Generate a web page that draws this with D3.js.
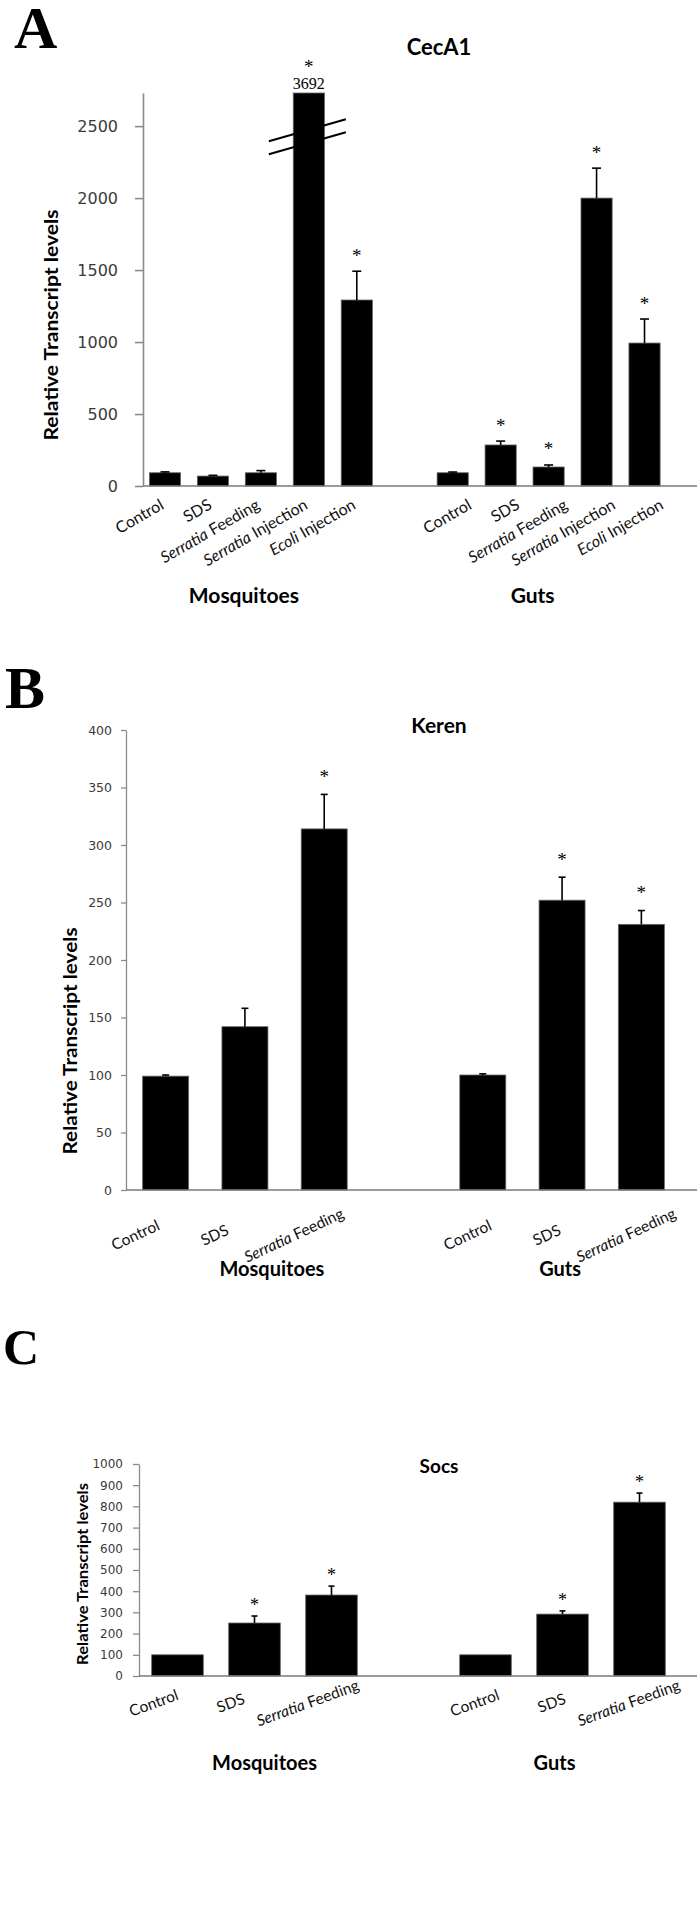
<!DOCTYPE html>
<html>
<head>
<meta charset="utf-8">
<script src="https://cdn.jsdelivr.net/npm/d3@7"></script>
<style>
  body { margin: 0; background: #fff; }
  text { white-space: pre; }
</style>
</head>
<body>
<div id="chart"></div>
<script>
// ---- data ----
var groups = ["Mosquitoes", "Guts"];
var italicWords = ["Serratia", "Ecoli"];

var cecCats = ["Control", "SDS", "Serratia Feeding", "Serratia Injection", "Ecoli Injection"];
var cecMosq = [92, 69, 92, 3692, 1292];
var cecMosqErr = [6, 5, 15, 0, 200];
var cecMosqSig = [0, 0, 0, 1, 1];
var cecGuts = [92, 285, 132, 2000, 993];
var cecGutsErr = [5, 27, 14, 208, 167];
var cecGutsSig = [0, 1, 1, 1, 1];
var cecTicks = [0, 500, 1000, 1500, 2000, 2500];

var bcCats = ["Control", "SDS", "Serratia Feeding"];
var kerMosq = [99, 142, 314];
var kerMosqErr = [1, 16, 30];
var kerMosqSig = [0, 0, 1];
var kerGuts = [100, 252, 231];
var kerGutsErr = [1, 20, 12];
var kerGutsSig = [0, 1, 1];
var kerTicks = [0, 50, 100, 150, 200, 250, 300, 350, 400];

var socMosq = [100, 250, 382];
var socMosqErr = [0, 33, 42];
var socMosqSig = [0, 1, 1];
var socGuts = [100, 292, 820];
var socGutsErr = [0, 15, 43];
var socGutsSig = [0, 1, 1];
var socTicks = [0, 100, 200, 300, 400, 500, 600, 700, 800, 900, 1000];

var svg = d3.select("#chart")
  .append("svg")
  .attr("width", 700)
  .attr("height", 1913);

function drawPanel(p) {
  var rows = [];
  p.series.forEach(function(s, gi) {
    p.cats.forEach(function(c, ci) {
      rows.push({group: gi, cat: c, slot: gi * (p.cats.length + 1) + ci,
                 value: s[0][ci], err: s[1][ci], sig: s[2][ci]});
    });
  });
  var nSlots = p.series.length * (p.cats.length + 1) - 1;

  var x = d3.scaleBand()
    .domain(d3.range(nSlots))
    .range(p.xRange)
    .paddingInner(p.pad)
    .paddingOuter(p.pad / 2);
  var y = d3.scaleLinear().domain(p.yDomain).range(p.yRange);
  var yMax = p.yDomain[1];
  var cx = function(d) { return x(d.slot) + x.bandwidth() / 2; };

  var g = svg.append("g");

  // panel letter
  g.append("text")
    .attr("x", p.letter[1]).attr("y", p.letter[2])
    .attr("font-family", "Liberation Serif, Times New Roman, serif")
    .attr("font-weight", "bold")
    .attr("font-size", p.letter[3])
    .text(p.letter[0]);

  // title
  g.append("text")
    .attr("x", 439).attr("y", p.titleY)
    .attr("text-anchor", "middle")
    .attr("font-family", "Lato, sans-serif")
    .attr("font-weight", "bold")
    .attr("font-size", p.titleSize)
    .text(p.title);

  // y axis
  var leftAxis = d3.axisLeft(y)
    .tickValues(p.ticks)
    .tickFormat(d3.format("d"))
    .tickSize(p.tickSize)
    .tickSizeOuter(0)
    .tickPadding(p.tickPad);
  var ya = g.append("g")
    .attr("transform", `translate(${p.axisX}, 0)`)
    .call(leftAxis);
  ya.select(".domain").attr("stroke", "#8a8a8a").attr("stroke-width", p.axisW);
  ya.selectAll(".tick line").attr("stroke", "#8a8a8a").attr("stroke-width", p.axisW);
  ya.selectAll(".tick text")
    .attr("fill", "#3a3a3a")
    .attr("font-family", "DejaVu Sans, Verdana, sans-serif")
    .attr("font-size", p.tickFont);

  // y axis title
  g.append("text")
    .attr("transform", `translate(${p.yLab[0]}, ${p.yLab[1]}) rotate(-90)`)
    .attr("text-anchor", "middle")
    .attr("dominant-baseline", "central")
    .attr("font-family", "Lato, sans-serif")
    .attr("font-weight", "bold")
    .attr("font-size", p.yLab[3])
    .attr("textLength", p.yLab[2])
    .attr("lengthAdjust", "spacingAndGlyphs")
    .text("Relative Transcript levels");

  // bars
  g.selectAll(".bar")
    .data(rows)
    .enter()
    .append("rect")
    .attr("x", d => x(d.slot))
    .attr("width", x.bandwidth())
    .attr("y", d => y(Math.min(d.value, yMax)))
    .attr("height", d => y(0) - y(Math.min(d.value, yMax)))
    .attr("fill", "#000")
    .attr("stroke", "#666")
    .attr("stroke-width", 0.8);

  // x axis line
  g.append("line")
    .attr("x1", p.axisX).attr("x2", 697)
    .attr("y1", y(0)).attr("y2", y(0))
    .attr("stroke", "#7a7a7a")
    .attr("stroke-width", p.axisW);

  // error bars
  var eb = rows.filter(d => d.err > 0 && d.value <= yMax);
  g.selectAll(".err")
    .data(eb)
    .enter()
    .append("line")
    .attr("x1", cx).attr("x2", cx)
    .attr("y1", d => y(d.value)).attr("y2", d => y(d.value + d.err))
    .attr("stroke", "#000").attr("stroke-width", 1.6);
  g.selectAll(".cap")
    .data(eb)
    .enter()
    .append("line")
    .attr("x1", d => cx(d) - p.cap / 2).attr("x2", d => cx(d) + p.cap / 2)
    .attr("y1", d => y(d.value + d.err)).attr("y2", d => y(d.value + d.err))
    .attr("stroke", "#000").attr("stroke-width", 1.6);

  // broken bars: value written above, two slanted break marks
  var broken = rows.filter(d => d.value > yMax);
  broken.forEach(function(d) {
    g.append("text")
      .attr("x", cx(d)).attr("y", y(yMax) - 4)
      .attr("text-anchor", "middle")
      .attr("font-family", "Liberation Serif, serif")
      .attr("font-size", 16)
      .text(d.value);
    [0.905, 0.872].forEach(function(f) {
      var by = y(yMax * f);
      g.append("line")
        .attr("x1", cx(d) - 40).attr("y1", by + 11)
        .attr("x2", cx(d) + 37).attr("y2", by - 11)
        .attr("stroke", "#000").attr("stroke-width", 2);
    });
  });

  // significance stars
  g.selectAll(".star")
    .data(rows.filter(d => d.sig))
    .enter()
    .append("text")
    .attr("x", cx)
    .attr("y", function(d) {
      var top = d.value > yMax ? y(yMax) - 30 : y(d.value + d.err) - p.starGap;
      return top + p.starSize * 0.5;
    })
    .attr("text-anchor", "middle")
    .attr("font-family", "Liberation Serif, serif")
    .attr("font-size", p.starSize)
    .attr("fill", "#000")
    .text("*");

  // category labels
  var lab = g.selectAll(".xl")
    .data(rows)
    .enter()
    .append("text")
    .attr("transform", d => `translate(${cx(d) + p.labShift[d.group]}, ${y(0) + p.labDy}) rotate(${p.labRot})`)
    .attr("text-anchor", p.labAnchor)
    .attr("font-family", "Lato, sans-serif")
    .attr("font-size", p.labSize)
    .attr("fill", "#111");
  lab.each(function(d) {
    var t = d3.select(this);
    d.cat.split(" ").forEach(function(w, i) {
      t.append("tspan")
        .attr("font-style", italicWords.indexOf(w) >= 0 ? "italic" : null)
        .text((i ? " " : "") + w);
    });
  });

  // group labels
  groups.forEach(function(name, gi) {
    var gr = rows.filter(d => d.group === gi);
    var mid = (cx(gr[0]) + cx(gr[gr.length - 1])) / 2;
    g.append("text")
      .attr("x", mid + p.grpShift[gi]).attr("y", p.grpY)
      .attr("text-anchor", "middle")
      .attr("font-family", "Lato, sans-serif")
      .attr("font-weight", "bold")
      .attr("font-size", p.grpSize)
      .text(name);
  });
}

drawPanel({
  letter: ["A", 14, 48, 60], title: "CecA1", titleY: 55, titleSize: 22,
  cats: cecCats,
  series: [[cecMosq, cecMosqErr, cecMosqSig], [cecGuts, cecGutsErr, cecGutsSig]],
  xRange: [141, 668.5], pad: 0.35, axisX: 143, axisW: 1.6,
  yDomain: [0, 2730], yRange: [486, 93], ticks: cecTicks,
  tickSize: 8, tickPad: 17, tickFont: 16,
  yLab: [50, 325, 231, 19],
  cap: 9, starGap: 19, starSize: 19,
  labRot: -30, labAnchor: "end", labDy: 22, labShift: [0, 20], labSize: 16,
  grpY: 603, grpSize: 21, grpShift: [-17, -16]
});

drawPanel({
  letter: ["B", 5, 708, 60], title: "Keren", titleY: 733, titleSize: 21,
  cats: bcCats,
  series: [[kerMosq, kerMosqErr, kerMosqSig], [kerGuts, kerGutsErr, kerGutsSig]],
  xRange: [126, 681], pad: 0.42, axisX: 126, axisW: 1.3,
  yDomain: [0, 400], yRange: [1190, 730], ticks: kerTicks,
  tickSize: 5, tickPad: 9, tickFont: 12.5,
  yLab: [69, 1041, 227, 19],
  cap: 7, starGap: 21, starSize: 19,
  labRot: -25, labAnchor: "middle", labDy: 50, labShift: [-28, -13], labSize: 15.5,
  grpY: 1276, grpSize: 20, grpShift: [27, -2]
});

drawPanel({
  letter: ["C", 3, 1364, 50], title: "Socs", titleY: 1473, titleSize: 19,
  cats: bcCats,
  series: [[socMosq, socMosqErr, socMosqSig], [socGuts, socGutsErr, socGutsSig]],
  xRange: [139, 678], pad: 0.33, axisX: 139, axisW: 1.3,
  yDomain: [0, 1000], yRange: [1676, 1464], ticks: socTicks,
  tickSize: 6, tickPad: 10, tickFont: 12,
  yLab: [81, 1574, 182, 16],
  cap: 6, starGap: 14, starSize: 18,
  labRot: -20, labAnchor: "middle", labDy: 32, labShift: [-22, -9], labSize: 15.5,
  grpY: 1770, grpSize: 20, grpShift: [10, -8]
});
</script>
</body>
</html>
